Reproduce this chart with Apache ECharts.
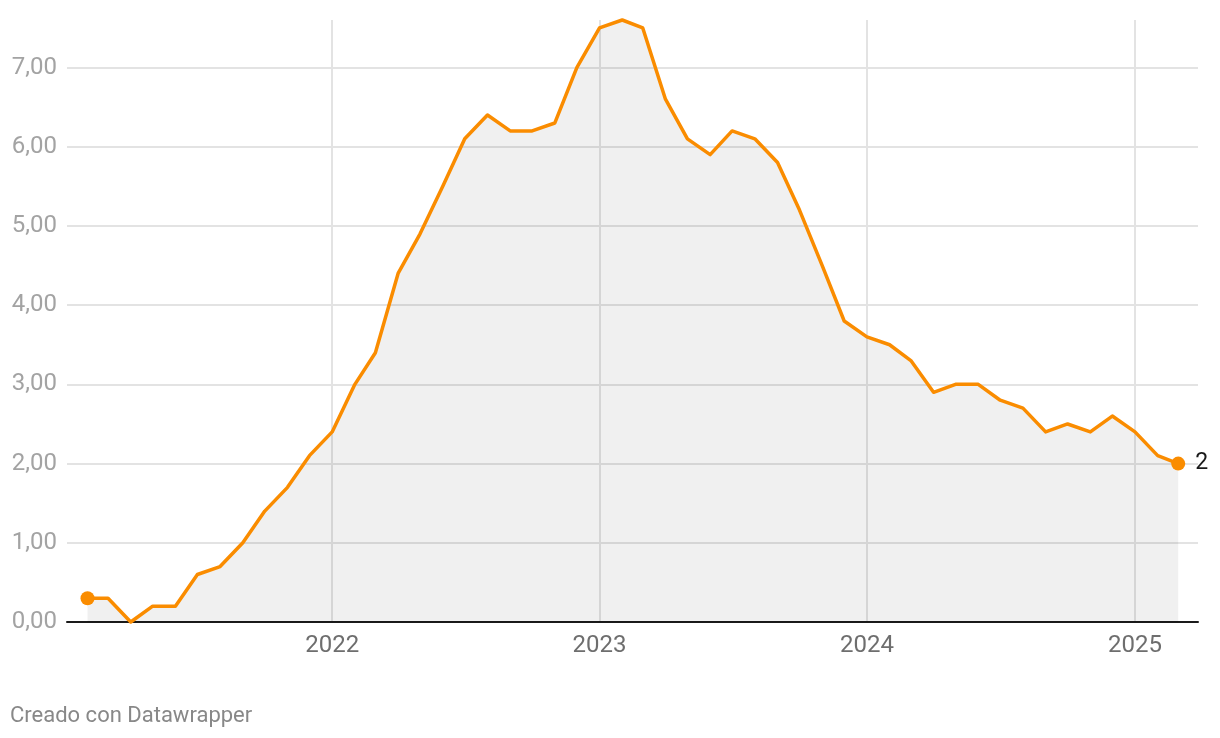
<!DOCTYPE html>
<html>
<head>
<meta charset="utf-8">
<script src="https://cdn.jsdelivr.net/npm/echarts@6/dist/echarts.min.js"></script>
<style>
html,body{margin:0;padding:0;background:#fff;}
#chart{width:1220px;height:738px;}
</style>
</head>
<body>
<div id="chart"></div>
<script>
// Months (YYYY-MM) and values
const months = [
  '2021-02','2021-03','2021-04','2021-05','2021-06','2021-07','2021-08','2021-09','2021-10','2021-11','2021-12',
  '2022-01','2022-02','2022-03','2022-04','2022-05','2022-06','2022-07','2022-08','2022-09','2022-10','2022-11','2022-12',
  '2023-01','2023-02','2023-03','2023-04','2023-05','2023-06','2023-07','2023-08','2023-09','2023-10','2023-11','2023-12',
  '2024-01','2024-02','2024-03','2024-04','2024-05','2024-06','2024-07','2024-08','2024-09','2024-10','2024-11','2024-12',
  '2025-01','2025-02','2025-03'
];
const values = [
  0.3,0.3,0.0,0.2,0.2,0.6,0.7,1.0,1.4,1.7,2.1,
  2.4,3.0,3.4,4.4,4.9,5.5,6.1,6.4,6.2,6.2,6.3,7.0,
  7.5,7.6,7.5,6.6,6.1,5.9,6.2,6.1,5.8,5.2,4.5,3.8,
  3.6,3.5,3.3,2.9,3.0,3.0,2.8,2.7,2.4,2.5,2.4,2.6,
  2.4,2.1,2.0
];
const yearTicks = [2022, 2023, 2024, 2025];
const yTicks = [0, 1, 2, 3, 4, 5, 6, 7];
const footerText = 'Creado con Datawrapper';

function toTime(m) {
  const [y, mo] = m.split('-').map(Number);
  return Date.UTC(y, mo - 1, 1);
}
const seriesData = months.map((m, i) => [toTime(m), values[i]]);
const yearTickTimes = yearTicks.map(y => Date.UTC(y, 0, 1));
const endpoints = [seriesData[0], seriesData[seriesData.length - 1]];

const chart = echarts.init(document.getElementById('chart'));
chart.setOption({
  animation: false,
  backgroundColor: '#ffffff',
  grid: { left: 67, right: 22, top: 20, bottom: 116, containLabel: false },
  xAxis: {
    type: 'value',
    min: Date.UTC(2021, 0, 4),
    max: Date.UTC(2025, 2, 28),
    axisLine: { show: true, onZero: false, lineStyle: { color: '#1a1a1a', width: 2 } },
    axisTick: { show: false, customValues: yearTickTimes },
    axisLabel: {
      customValues: yearTickTimes,
      formatter: v => String(new Date(v).getUTCFullYear()),
      color: '#6e6e6e',
      fontFamily: 'Roboto',
      fontSize: 24,
      margin: 12
    },
    splitLine: { show: true, lineStyle: { color: '#e3e3e3', width: 2 } }
  },
  yAxis: {
    type: 'value',
    min: 0,
    max: 7.6,
    axisLine: { show: false },
    axisTick: { show: false, customValues: yTicks },
    axisLabel: {
      customValues: yTicks,
      formatter: v => v.toFixed(2).replace('.', ','),
      color: '#a3a3a3',
      fontFamily: 'Roboto',
      fontSize: 24,
      margin: 10
    },
    splitLine: { show: true, lineStyle: { color: '#e3e3e3', width: 2 } }
  },
  series: [
    {
      type: 'line',
      data: seriesData,
      showSymbol: false,
      clip: false,
      lineStyle: { color: '#fa8c00', width: 3.5, join: 'round' },
      areaStyle: { color: 'rgba(0,0,0,0.06)', opacity: 1, origin: 'start' },
      z: 3
    },
    {
      type: 'scatter',
      data: endpoints,
      symbol: 'circle',
      symbolSize: 14,
      itemStyle: { color: '#fa8c00', opacity: 1 },
      clip: false,
      z: 4,
      label: {
        show: true,
        position: 'right',
        distance: 10,
        color: '#1a1a1a',
        fontFamily: 'Roboto',
        fontSize: 23,
        formatter: p => (p.dataIndex === endpoints.length - 1 ? String(p.value[1]) : '')
      }
    }
  ],
  graphic: [
    {
      type: 'text',
      left: 10,
      top: 705,
      style: { text: footerText, fill: '#888888', font: '22px Roboto' }
    }
  ]
});
</script>
</body>
</html>
